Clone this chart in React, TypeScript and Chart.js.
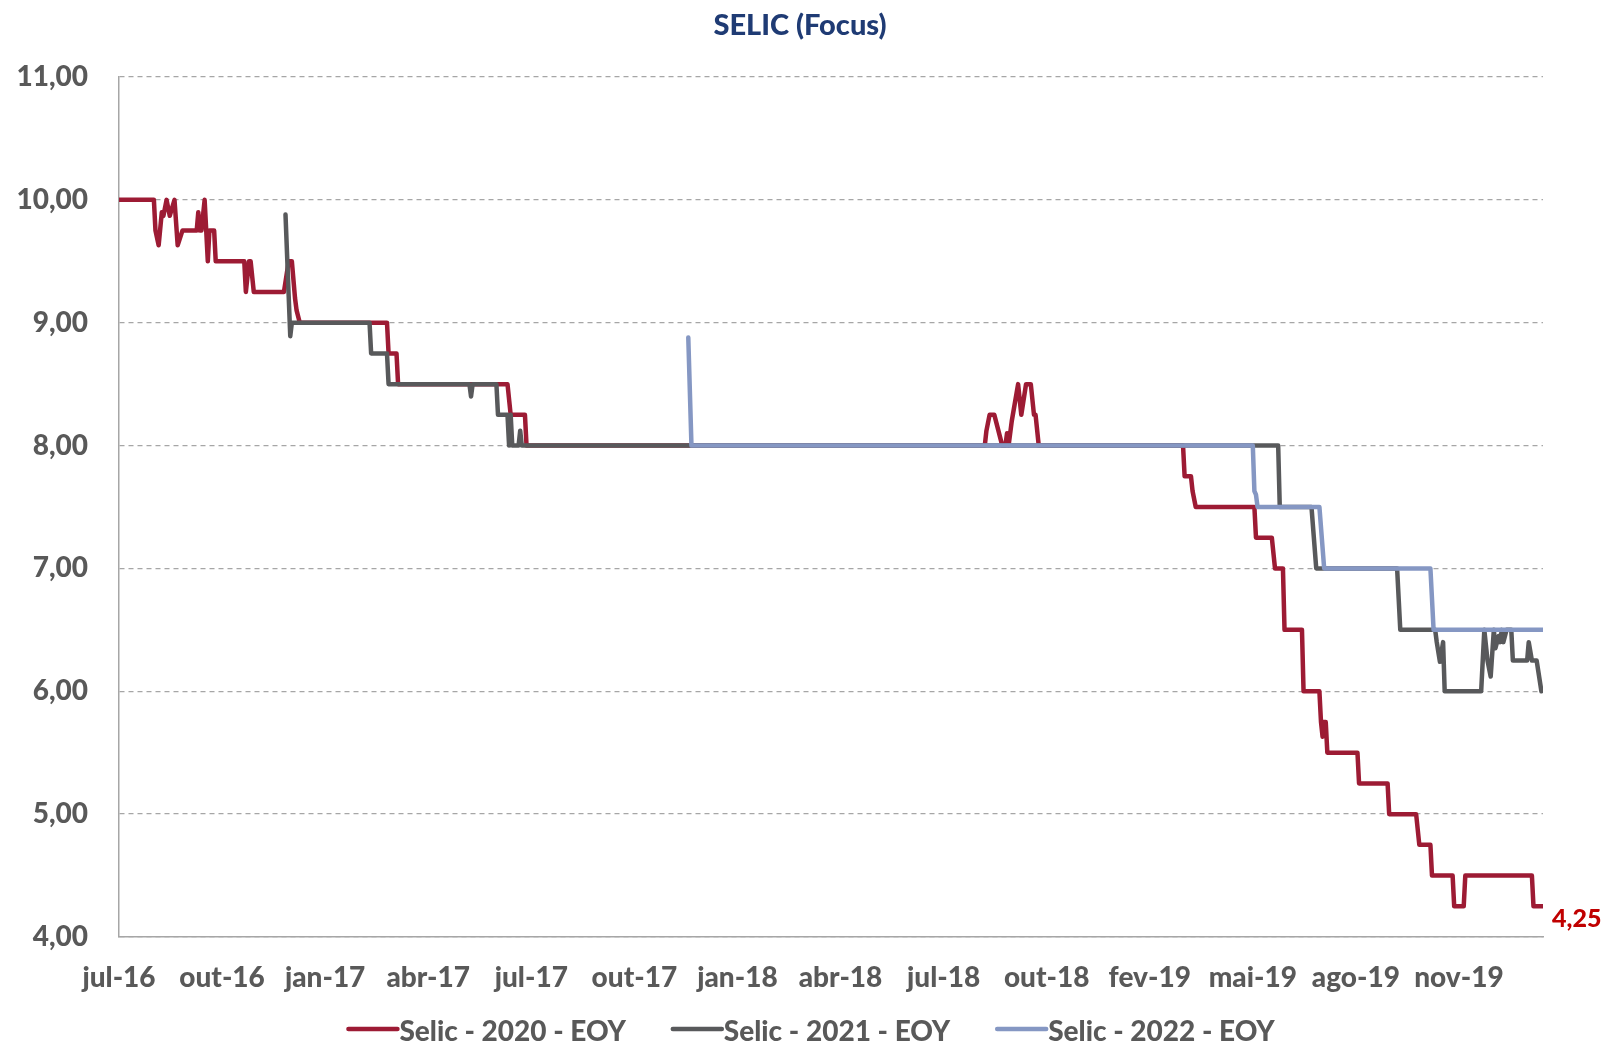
import React, { useEffect, useRef } from 'react';
import { Chart, registerables } from 'chart.js';

Chart.register(...registerables);

// ---- data ----
const chartTitle = 'SELIC (Focus)';
const xTickLabels = ['jul-16', 'out-16', 'jan-17', 'abr-17', 'jul-17', 'out-17', 'jan-18', 'abr-18', 'jul-18', 'out-18', 'fev-19', 'mai-19', 'ago-19', 'nov-19'];
const DAYS_PER_LABEL = 65; // business days between two tick labels
const LAST_DAY = 898;
const Y_MIN = 4;
const Y_MAX = 11;

const seriesNames = ['Selic - 2020 - EOY', 'Selic - 2021 - EOY', 'Selic - 2022 - EOY'];

const selic2020Days = [0, 22, 23, 25, 27, 28, 30, 32, 35, 37, 40, 49, 50, 51, 52, 54, 56, 57, 60, 61, 79, 80, 82, 83, 85, 104, 107, 109, 111, 112, 114, 169, 170, 175, 176, 245, 247, 256, 257, 546, 547, 549, 552, 557, 559, 560, 561, 563, 567, 569, 572, 575, 577, 578, 580, 671, 672, 676, 677, 679, 716, 717, 727, 729, 734, 735, 746, 747, 757, 758, 759, 759.5, 761, 762, 781, 782, 800, 801, 818, 820, 827, 828, 841, 842, 848, 849, 891, 892, 898];
const selic2020Values = [10, 10, 9.75, 9.63, 9.9, 9.87, 10, 9.87, 10, 9.63, 9.75, 9.75, 9.9, 9.75, 9.75, 10, 9.5, 9.75, 9.75, 9.5, 9.5, 9.25, 9.5, 9.5, 9.25, 9.25, 9.5, 9.5, 9.2, 9.1, 9.0, 9.0, 8.75, 8.75, 8.5, 8.5, 8.25, 8.25, 8.0, 8.0, 8.12, 8.25, 8.25, 8.0, 8.0, 8.1, 8.0, 8.2, 8.5, 8.25, 8.5, 8.5, 8.25, 8.25, 8.0, 8.0, 7.75, 7.75, 7.63, 7.5, 7.5, 7.25, 7.25, 7.0, 7.0, 6.5, 6.5, 6.0, 6.0, 5.75, 5.63, 5.75, 5.75, 5.5, 5.5, 5.25, 5.25, 5.0, 5.0, 4.75, 4.75, 4.5, 4.5, 4.25, 4.25, 4.5, 4.5, 4.25, 4.25];

const selic2021Days = [105, 108, 109, 158, 159, 169, 170, 221, 222, 223, 238, 239, 245, 246, 247, 248, 252, 253, 254, 731, 732, 752, 755, 806, 807, 808, 830, 831, 833, 835, 836, 859, 861, 863, 865, 867, 868, 870, 871, 872, 873, 875, 878, 879, 888, 889, 891, 894, 897];
const selic2021Values = [9.88, 8.89, 9.0, 9.0, 8.75, 8.75, 8.5, 8.5, 8.4, 8.5, 8.5, 8.25, 8.25, 8.0, 8.25, 8.0, 8.0, 8.12, 8.0, 8.0, 7.5, 7.5, 7.0, 7.0, 6.75, 6.5, 6.5, 6.4, 6.24, 6.4, 6.0, 6.0, 6.5, 6.25, 6.12, 6.5, 6.35, 6.45, 6.4, 6.5, 6.4, 6.5, 6.5, 6.25, 6.25, 6.4, 6.25, 6.25, 6.0];

const selic2022Days = [359, 361, 715, 716, 717, 718, 757, 760, 827, 829, 898];
const selic2022Values = [8.88, 8.0, 8.0, 7.63, 7.6, 7.5, 7.5, 7.0, 7.0, 6.5, 6.5];

// ---- styles ----
const seriesColors = ['#9D1B34', '#58595B', '#8597C3'];
const seriesOrder = [2, 1, 0];
const FONT = 'Lato';
const WEIGHT = '900';
const LABEL_COLOR = '#595959';
const TITLE_COLOR = '#1F3B74';
const AXIS_COLOR = '#A6A6A6';

const toPoints = (days: number[], values: number[]) => days.map((d, i) => ({ x: d, y: values[i] }));
const fmt = (v: number) => v.toFixed(2).replace('.', ',');

const overlayPlugin = {
  id: 'overlay',
  afterDraw(chart: any) {
    const ctx = chart.ctx as CanvasRenderingContext2D;
    ctx.save();
    // title
    ctx.font = `${WEIGHT} 29px ${FONT}`;
    ctx.fillStyle = TITLE_COLOR;
    ctx.textAlign = 'center';
    ctx.textBaseline = 'middle';
    ctx.fillText(chartTitle, 800, 26);

    // end label for first series
    const xs = chart.scales.x;
    const ys = chart.scales.y;
    const lastX = selic2020Days[selic2020Days.length - 1];
    const lastY = selic2020Values[selic2020Values.length - 1];
    ctx.font = `${WEIGHT} 25px ${FONT}`;
    ctx.fillStyle = '#C00000';
    ctx.textAlign = 'left';
    ctx.fillText(fmt(lastY), xs.getPixelForValue(lastX) + 9, ys.getPixelForValue(lastY) + 13);

    // legend
    ctx.font = `${WEIGHT} 28px ${FONT}`;
    const lineLen = 49;
    const gapAfterLine = 2;
    const itemGap = 47;
    const widths = seriesNames.map((n) => lineLen + gapAfterLine + ctx.measureText(n).width);
    const total = widths.reduce((a, b) => a + b, 0) + itemGap * (seriesNames.length - 1);
    let x = 811.5 - total / 2;
    const y = 1032;
    seriesNames.forEach((name, i) => {
      ctx.strokeStyle = seriesColors[i];
      ctx.lineWidth = 4.5;
      ctx.lineCap = 'round';
      ctx.beginPath();
      ctx.moveTo(x, y - 3);
      ctx.lineTo(x + lineLen, y - 3);
      ctx.stroke();
      ctx.fillStyle = LABEL_COLOR;
      ctx.textAlign = 'left';
      ctx.textBaseline = 'middle';
      ctx.fillText(name, x + lineLen + gapAfterLine, y);
      x += widths[i] + itemGap;
    });
    ctx.restore();
  },
};

export default function App() {
  const ref = useRef<HTMLCanvasElement | null>(null);
  useEffect(() => {
    if (!ref.current) return;
    const seriesDays = [selic2020Days, selic2021Days, selic2022Days];
    const seriesValues = [selic2020Values, selic2021Values, selic2022Values];
    const chart = new Chart(ref.current, {
      type: 'line',
      data: {
        datasets: seriesNames.map((name, i) => ({
          label: name,
          data: toPoints(seriesDays[i], seriesValues[i]),
          borderColor: seriesColors[i],
          backgroundColor: seriesColors[i],
          borderWidth: 4.5,
          pointRadius: 0,
          tension: 0,
          borderCapStyle: 'round',
          borderJoinStyle: 'round',
          order: seriesOrder[i],
          fill: false,
        })),
      },
      options: {
        animation: false,
        responsive: false,
        maintainAspectRatio: false,
        layout: { padding: { left: 0, right: 60, top: 77, bottom: 37 } },
        plugins: {
          legend: { display: false },
          title: { display: false },
          tooltip: { enabled: false },
        },
        scales: {
          x: {
            type: 'linear',
            min: 0,
            max: LAST_DAY,
            grid: { display: false },
            border: { display: true, color: AXIS_COLOR, width: 1.5 },
            afterBuildTicks: (scale: any) => {
              scale.ticks = xTickLabels.map((_, i) => ({ value: i * DAYS_PER_LABEL }));
            },
            afterFit: (scale: any) => {
              scale.height = 70;
            },
            ticks: {
              autoSkip: false,
              maxRotation: 0,
              minRotation: 0,
              padding: 16,
              color: LABEL_COLOR,
              font: { family: FONT, size: 28, weight: WEIGHT },
              callback: (v: any) => xTickLabels[Math.round(Number(v) / DAYS_PER_LABEL)] ?? '',
            },
          },
          y: {
            type: 'linear',
            min: Y_MIN,
            max: Y_MAX,
            grid: { color: AXIS_COLOR, lineWidth: 1.3, drawTicks: false },
            border: { display: true, color: AXIS_COLOR, width: 1.5, dash: [5, 4] },
            afterFit: (scale: any) => {
              scale.width = 119;
            },
            ticks: {
              stepSize: 1,
              padding: 31,
              color: LABEL_COLOR,
              font: { family: FONT, size: 28, weight: WEIGHT },
              callback: (v: any) => fmt(Number(v)),
            },
          },
        },
      } as any,
      plugins: [overlayPlugin],
    });
    return () => chart.destroy();
  }, []);
  return (
    <div style={{ position: 'fixed', left: 0, top: 0, width: 1603, height: 1044, background: '#fff' }}>
      <canvas ref={ref} width={1603} height={1044} style={{ width: 1603, height: 1044 }} />
    </div>
  );
}
